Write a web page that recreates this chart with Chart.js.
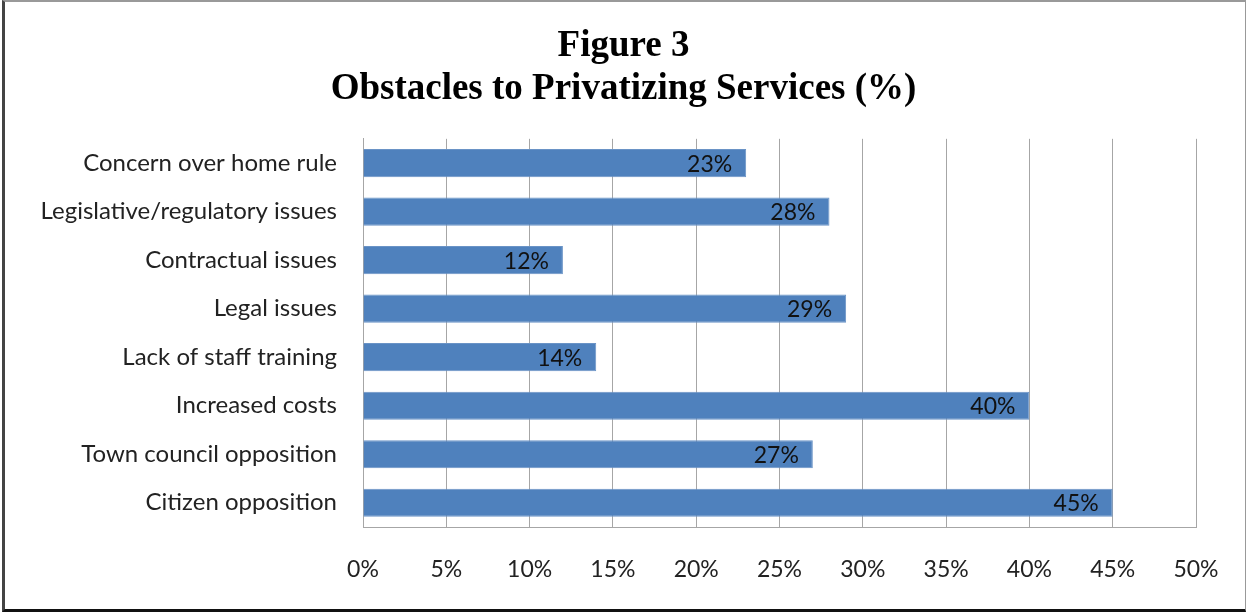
<!DOCTYPE html>
<html>
<head>
<meta charset="utf-8">
<script src="https://cdn.jsdelivr.net/npm/chart.js@4"></script>
<style>
  html, body { margin: 0; padding: 0; background: #fff; }
  #wrap { position: relative; width: 1247px; height: 613px; }
  #frame {
    position: absolute; left: 2px; top: 0; right: 1px; bottom: 1px;
    border-left: 3px solid #444; border-top: 2px solid #999;
    border-right: 1px solid #999; border-bottom: 3px solid #111;
    pointer-events: none;
  }
</style>
</head>
<body>
<div id="wrap">
  <canvas id="chart" width="1247" height="613"></canvas>
  <div id="frame"></div>
</div>
<script>
const categories = [
  'Concern over home rule',
  'Legislative/regulatory issues',
  'Contractual issues',
  'Legal issues',
  'Lack of staff training',
  'Increased costs',
  'Town council opposition',
  'Citizen opposition'
];
const percents = [23, 28, 12, 29, 14, 40, 27, 45];
const xTicks = [0, 5, 10, 15, 20, 25, 30, 35, 40, 45, 50];

const labelFont = 'Lato';

// value labels drawn inside the end of each bar
const barLabels = {
  id: 'barLabels',
  afterDatasetsDraw(chart) {
    const ctx = chart.ctx;
    const meta = chart.getDatasetMeta(0);
    ctx.save();
    ctx.font = '23px ' + labelFont;
    ctx.fillStyle = '#111';
    ctx.textAlign = 'right';
    ctx.textBaseline = 'middle';
    meta.data.forEach((bar, i) => {
      ctx.fillText(percents[i] + '%', bar.x - 14, bar.y + 1);
    });
    ctx.restore();
  }
};

new Chart(document.getElementById('chart'), {
  type: 'bar',
  data: {
    labels: categories,
    datasets: [{
      data: percents,
      backgroundColor: '#4F81BD',
      borderColor: '#6a93c6',
      borderWidth: 1,
      borderSkipped: 'start',
      barPercentage: 0.58,
      categoryPercentage: 1
    }]
  },
  options: {
    indexAxis: 'y',
    responsive: false,
    animation: false,
    layout: { padding: { top: 15, right: 0, bottom: 0, left: 0 } },
    plugins: {
      legend: { display: false },
      tooltip: { enabled: false },
      title: {
        display: true,
        text: ['Figure 3', 'Obstacles to Privatizing Services (%)'],
        color: '#000',
        font: { family: 'Liberation Serif', size: 37, weight: 'bold', lineHeight: 1.16 },
        padding: { top: 10, bottom: 28 }
      }
    },
    scales: {
      x: {
        min: 0,
        max: 50,
        afterBuildTicks: scale => { scale.ticks = xTicks.map(v => ({ value: v })); },
        afterFit: scale => {
          scale.height = 86;
          // keep the plot clear of the right edge so the title stays centred on the page
          scale.paddingRight = 51;
        },
        grid: { color: '#a6a6a6', lineWidth: 1, drawTicks: false },
        border: { color: '#a6a6a6' },
        ticks: {
          color: '#222',
          padding: 29,
          font: { family: labelFont, size: 23 },
          callback: v => v + '%'
        }
      },
      y: {
        grid: { display: false, drawTicks: false },
        border: { color: '#a6a6a6' },
        afterFit: scale => { scale.width = 363; },
        ticks: {
          color: '#222',
          padding: 26,
          font: { family: labelFont, size: 24 }
        }
      }
    }
  },
  plugins: [barLabels]
});
</script>
</body>
</html>
